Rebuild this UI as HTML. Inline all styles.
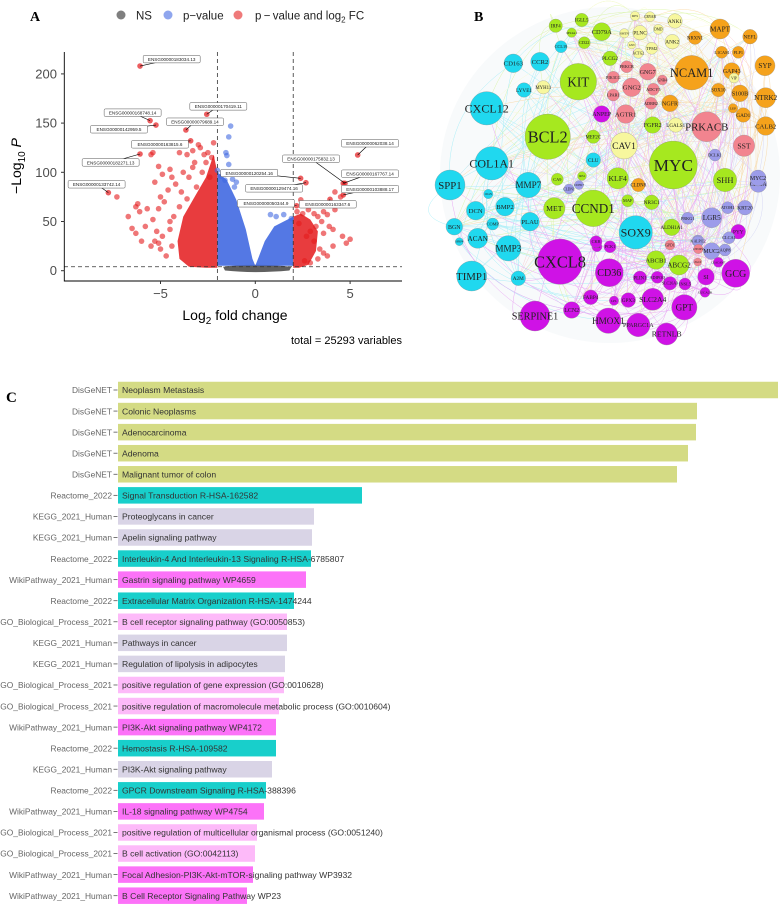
<!DOCTYPE html>
<html><head><meta charset="utf-8"><style>
html,body{margin:0;padding:0;background:#fff;}
svg{display:block;font-family:"Liberation Sans",sans-serif;}
</style></head><body>
<svg id="fig" width="783" height="905" viewBox="0 0 783 905" xmlns="http://www.w3.org/2000/svg">
<g id="pa"></g>
<g id="pb"></g>
<g id="pc"></g>
</svg>
<script>
// ---------- Panel A data ----------
const redX=[-7.3,-6.2,-6.1,-6.3,-6.7,-6.5,-6.3,-5.4,-5.5,-5.1,-4.9,-4.5,-4.4,-4.0,-3.6,-3.3,-3.2,-2.9,-2.7,-2.5,-2.3,-2.2,-3.0,-5.3,-5.0,-4.6,-4.8,-5.1,-5.4,-5.7,-5.8,-5.2,-4.9,-4.5,-5.1,-5.0,-4.4,-4.7,-4.3,-4.2,-3.8,-3.5,-3.9,-4.0,-3.6,-4.5,-5.5,-5.3,-6.0,-3.3,-2.6,-2.4,-3.1,-2.8,
2.2,2.5,2.8,3.1,3.3,3.6,3.8,3.5,3.2,3.9,4.1,3.6,2.9,3.1,3.4,3.6,3.3,2.9,2.6,4.2,4.2,4.5,5.0,4.8,4.6,3.0,2.4,3.8,4.1,2.3,2.7];
const redY=[75,68,60,65,55,43,38,120,118,106,98,103,95,120,118,122,110,125,118,120,115,130,128,90,75,82,70,63,52,63,45,40,35,42,28,22,25,15,55,88,100,95,80,65,73,50,25,30,30,105,110,95,85,100,
60,58,62,58,55,60,57,50,45,45,42,38,40,30,22,18,12,8,10,62,80,75,32,28,35,68,72,15,25,48,35];
const blueX=[-1.3,-1.4,-1.55,-1.5,-1.4,-2.0,-1.8,-1.6,-1.2,-1.0,0.8,1.1,1.5,1.9,-1.7,-1.1];
const blueY=[147,136,120,117,108,102,96,92,93,90,57,55,57,53,100,85];
const blueEnvX=[-2,-1.5,-1,-0.5,-0.15,0,0.2,0.5,1,1.5,2,2,-2];
const blueEnvY=[100,92,72,42,12,5,15,30,45,50,55,5,5];
const redLeftEnvX=[-2,-2.2,-2.6,-3.2,-3.8,-4.1,-4.0,-3.5,-2.6,-2];
const redLeftEnvY=[100,118,95,75,55,30,12,4,3,3];
const redRightEnvX=[2,2.4,2.9,3.3,3.2,2.8,2.3,2];
const redRightEnvY=[55,58,52,40,20,6,3,3];
const labGenes=["ENSG00000183034.13","ENSG00000168748.14","ENSG00000142959.5","ENSG00000170419.11","ENSG00000079689.14","ENSG00000163815.6","ENSG00000182271.13","ENSG00000133742.14","ENSG00000062038.14","ENSG00000175832.13","ENSG00000167767.14","ENSG00000103888.17","ENSG00000163347.6","ENSG00000120254.16","ENSG00000129474.16","ENSG00000050344.9"];
const labPX=[-6.08,-5.55,-5.24,-2.56,-3.66,-3.41,-6.08,-7.75,5.4,4.73,4.64,4.64,3.94,2.39,2.67,2.18];
const labPY=[208,152.5,148,159,143,132,118.6,79.3,117.6,88.8,88.8,77,72.5,93.9,89.4,66];
const labTX=[-4.41,-6.47,-7.19,-1.95,-3.18,-5.03,-7.63,-8.37,6.05,2.94,6.05,6.05,3.82,-0.32,0.99,0.56];
const labTY=[215,160.6,143.7,167,151.4,128.4,110,87.8,129.5,113.8,98.6,83,67.5,99.3,83.7,68.5];
const yTicks=[0,50,100,150,200];
const xTicks=[-5,0,5];

// ---------- Panel C data ----------
const libs=["DisGeNET","DisGeNET","DisGeNET","DisGeNET","DisGeNET","Reactome_2022","KEGG_2021_Human","KEGG_2021_Human","Reactome_2022","WikiPathway_2021_Human","Reactome_2022","GO_Biological_Process_2021","KEGG_2021_Human","KEGG_2021_Human","GO_Biological_Process_2021","GO_Biological_Process_2021","WikiPathway_2021_Human","Reactome_2022","KEGG_2021_Human","Reactome_2022","WikiPathway_2021_Human","GO_Biological_Process_2021","GO_Biological_Process_2021","WikiPathway_2021_Human","WikiPathway_2021_Human"];
const terms=["Neoplasm Metastasis","Colonic Neoplasms","Adenocarcinoma","Adenoma","Malignant tumor of colon","Signal Transduction R-HSA-162582","Proteoglycans in cancer","Apelin signaling pathway","Interleukin-4 And Interleukin-13 Signaling R-HSA-6785807","Gastrin signaling pathway WP4659","Extracellular Matrix Organization R-HSA-1474244","B cell receptor signaling pathway (GO:0050853)","Pathways in cancer","Regulation of lipolysis in adipocytes","positive regulation of gene expression (GO:0010628)","positive regulation of macromolecule metabolic process (GO:0010604)","PI3K-Akt signaling pathway WP4172","Hemostasis R-HSA-109582","PI3K-Akt signaling pathway","GPCR Downstream Signaling R-HSA-388396","IL-18 signaling pathway WP4754","positive regulation of multicellular organismal process (GO:0051240)","B cell activation (GO:0042113)","Focal Adhesion-PI3K-Akt-mTOR-signaling pathway WP3932","B Cell Receptor Signaling Pathway WP23"];
const scores=[660,579,578,570,559,244,196,194,193,188,176,169,169,167,166,161,158,158,154,148,146,139,137,135,129];

// ---------- Panel B data ----------
const nodeNames=["IRF4","IGLL5","MS4A1","CD79A","CD22","CCL19","PLCG2","CD163","CCR2","KIT","LYVE1","MYH11","CXCL12","BCL2","ANPEP","AGTR1","FGFR2","LGALS1","PRKACB","CAV1","MEF2C","CLU","MYC","COL1A1","NCAM1","MAPT","NEFL","NRXN1","SYP","GAP43","L1CAM","PLP1","S100B","SOX10","NTRK2","GAD1","CALB2","NGFR","SST","DCLK1","GNG7","GNG2","PRKCB","PIK3CG","LPAR1","ADCY5","GNB4","ADRB2","ANK1","ANK2","PLNC","DES","CRYAB","DMD","SMTN","GSN","TPM2","ACTG2","LEP","VIP","SPP1","MMP7","OGN","BMP2","DCN","BGN","COMP","PLAU","ACAN","SFRP4","MMP3","TIMP1","A2M","CA9","CLDN1","CDH17","IRS1","KLF4","CLDN8","MAF","NR3C1","SHH","CHGA","MET","CCND1","PRKG1","LGR5","ATOH1","KRT20","MS4A12","ALDH1A1","SOX9","PYY","ALPI","MUC2","CLCA1","AQP8","CA1","CXCL8","ABCB1","ABCG2","CD36","GCG","SI","PLIN1","ADIPOQ","SLC26A3","INSL5","GUCA2B","FABP4","LPL","GPX3","SLC2A4","GPT","LCN2","SERPINE1","HMOX1","PPARGC1A","RETNLB","CKB","PCK1","GPD1","OTOP2","ZG16","CEACAM7","MYC2"];
const nodeX=[555.7,581.7,571.7,601.7,584.3,561,610,513.3,540,578.3,524,543.3,486.7,547.7,601.7,625.7,652.7,675.7,706.7,624,593.3,593.3,673.3,491.7,691.7,720,750,695,765,731.7,721.7,738.3,740,718.3,765.7,743.3,765.7,670,744,715,647.7,631.7,626.7,613.3,613.3,653.3,662.3,651,675,672.3,640,635,650,658.3,624.3,631.7,651.7,638.3,733,734,450,528.3,488.3,505,475.7,454.3,492.7,530,477.7,459.3,508.3,471.7,518.3,557.3,569,579,582,617.7,638.3,627.7,651.7,725,758.3,554.3,593.3,687.7,711.7,727.7,745,698,671.7,635.7,738.3,697.7,711.7,729,725,597,560,656,679,609.3,735.7,706,640,657.3,670,685,705,590.7,614,628.3,652.7,684.3,571.7,535,608.3,638.3,666.7,596,610,670,698.3,697.7,718.3,758];
const nodeY=[25.7,20,32.7,31.7,42.7,46.7,58.3,63.3,61.7,81.7,90,87.3,108.3,136.7,114,114,125,125,126.7,145.7,136.7,160,165,163.3,72.7,29,36.7,37.7,65.7,71,52.3,52.3,93.3,90,97.7,115,126,103.3,145.7,155,71.7,87.3,66.7,77.3,95,89.3,80,103.3,21,41.7,32.7,16,16.7,29.3,33.3,45,48.3,53.3,108.3,78,185,185,194,206.7,210.7,226.7,224,221.7,238.3,241.7,248.3,276,278.3,179.3,189,185,176,178.3,185,200.7,202.3,180,184,208.3,208.3,218.3,217.7,207.7,207.7,241,227.3,232.3,231.7,241,251,237.7,250,246.7,261.7,260,265,272.7,273.3,276.7,277.7,277.3,283.3,284,292.3,297.3,300.7,300,299.3,307.3,310,316,320.7,325,334,241.7,246.7,245,249,262,262.3,178];
const nodeR=[6.7,6.7,4.7,9,6,6,7.3,9.3,9.3,18.3,7.3,6.7,16.7,22.7,8.3,9.3,8.3,7.3,15,13.3,6.7,7.3,24,16.7,17.3,10,7.3,6.7,10,8.3,6,6,8.3,6.7,10,7.3,9.3,8.3,10.7,6,8.3,9.3,6,6,6,6,5,6,7.3,7.3,7.3,4.7,5,5,4.7,4,6,5,4.7,5,15,12.7,4.7,9.3,9.3,8.3,6,9.3,10,4,12.7,15,7.3,6,5,4.5,4.5,10.7,6.7,6,7.3,11.7,8.3,10.7,18.3,6,10,6,7.3,6,8.3,16.7,7.3,5,8.3,6,6,5,22.7,9.3,10,14,14,8.3,6.7,6,6.7,6,5,7.3,4.7,7.3,11,12.7,8.3,15,12.7,11.7,11,6,6,5,4.7,4,5,8];
const nodeGroup=["g","g","g","g","g","c","g","c","c","g","c","y","c","g","p","k","g","y","k","y","g","c","g","c","o","o","o","o","o","o","o","o","o","o","o","o","o","o","k","l","k","k","k","k","k","k","k","k","y","y","y","y","y","y","y","y","y","y","o","y","c","c","c","c","c","c","c","c","c","c","c","c","c","g","l","l","g","g","o","g","g","g","l","g","g","l","l","l","l","l","g","c","p","l","l","l","l","p","p","g","g","p","p","p","p","p","p","p","p","p","p","p","p","p","p","p","p","p","p","p","p","k","k","k","p","l"];

const NS="http://www.w3.org/2000/svg";
function mk(tag,attrs,parent){const e=document.createElementNS(NS,tag);for(const k in attrs)e.setAttribute(k,attrs[k]);if(parent)parent.appendChild(e);return e;}

// ================= Panel A =================
(function(){
const g=document.getElementById('pa');
const xS=v=>255.3+v*18.96, yS=v=>270.7-v*0.984;
let t=mk('text',{x:30,y:21,'font-family':'Liberation Serif',"font-weight":"bold","font-size":14,fill:'#000'},g);t.textContent='A';

const lg=mk('g',{},g);

const leg=[[121,'#7f7f7f','NS',136],[168,'#8fa6ee','p\u2212value',183],[238,'#ef7a7a','p\u2009\u2212\u2009value and log',255]];
leg.forEach((l,i)=>{
 const c=mk('circle',{cx:l[0],cy:15,r:4.5,fill:l[1]},lg);
 
 const tx=mk('text',{x:l[3],y:19.5,'font-size':11.5,fill:'#222'},lg);
 
 if(i<2)tx.textContent=l[2];else{tx.textContent=l[2];const s=mk('tspan',{'font-size':8,dy:3},tx);s.textContent='2';const s2=mk('tspan',{dy:-3},tx);s2.textContent=' FC';}
});
const band=mk('path',{d:`M${xS(-1.7)},${yS(4)} Q${xS(0)},${yS(8)} ${xS(1.9)},${yS(4)} L${xS(1.8)},${yS(0.2)} Q${xS(0)},${yS(-3)} ${xS(-1.6)},${yS(0.2)} Z`,fill:'#444',opacity:0.85},g);

let d='';blueEnvX.forEach((v,i)=>{d+=(i?'L':'M')+xS(v)+','+yS(blueEnvY[i]);});
const bc=mk('path',{d:d+'Z',fill:'#4169e1',opacity:0.9},g);

d='';redLeftEnvX.forEach((v,i)=>{d+=(i?'L':'M')+xS(v)+','+yS(redLeftEnvY[i]);});
const rl=mk('path',{d:d+'Z',fill:'#e41a1c',opacity:0.85},g);

d='';redRightEnvX.forEach((v,i)=>{d+=(i?'L':'M')+xS(v)+','+yS(redRightEnvY[i]);});
const rr=mk('path',{d:d+'Z',fill:'#e41a1c',opacity:0.85},g);

blueX.forEach((v,i)=>{const c=mk('circle',{cx:xS(v),cy:yS(blueY[i]),r:2.8,fill:'#4169e1','fill-opacity':0.6},g);
 });
redX.forEach((v,i)=>{const c=mk('circle',{cx:xS(v),cy:yS(redY[i]),r:2.8,fill:'#e41a1c','fill-opacity':0.6},g);
 });
labPX.forEach((v,i)=>{const c=mk('circle',{cx:xS(v),cy:yS(labPY[i]),r:2.8,fill:'#e41a1c','fill-opacity':0.7},g);
 });
[-2,2].forEach(v=>{const l=mk('line',{x1:xS(v),x2:xS(v),y1:52,y2:281,stroke:'#333','stroke-dasharray':'4,3','stroke-width':0.8},g);
 });
let hl=mk('line',{x1:64,x2:402,y1:yS(4),y2:yS(4),stroke:'#333','stroke-dasharray':'4,3','stroke-width':0.8},g);

labGenes.forEach((s,i)=>{
 const tx=xS(labTX[i]),ty=yS(labTY[i]);const w=57,h=7.5;
 const ln=mk('line',{x1:xS(labPX[i]),y1:yS(labPY[i]),x2:tx,y2:ty,stroke:'#000','stroke-width':0.6},g);
 
 const r=mk('rect',{x:tx-w/2,y:ty-h/2,width:w,height:h,rx:1.2,fill:'#fff',stroke:'#555','stroke-width':0.5},g);
 
 const te=mk('text',{x:tx,y:ty+1.8,'text-anchor':'middle','font-size':4.6,fill:'#222'},g);te.textContent=s;
 
});
let ax=mk('path',{d:'M64.3,52V281H402',fill:'none',stroke:'#000','stroke-width':0.9},g);

yTicks.forEach(v=>{mk('line',{x1:61,x2:64.3,y1:yS(v),y2:yS(v),stroke:'#333'},g);
 const tt=mk('text',{x:57,y:yS(v)+4.5,'text-anchor':'end','font-size':13,fill:'#4d4d4d'},g);tt.textContent=v;
 });
xTicks.forEach(v=>{mk('line',{x1:xS(v),x2:xS(v),y1:281,y2:284,stroke:'#333'},g);
 const tt=mk('text',{x:xS(v),y:298,'text-anchor':'middle','font-size':13,fill:'#4d4d4d'},g);tt.textContent=v===-5?'\u22125':v;
 });
let xt=mk('text',{x:235,y:320,'text-anchor':'middle','font-size':14,fill:'#000'},g);

xt.textContent='Log';let s=mk('tspan',{'font-size':10,dy:4},xt);s.textContent='2';s=mk('tspan',{dy:-4},xt);s.textContent=' fold change';
let yt=mk('text',{x:0,y:0,transform:'translate(21,166) rotate(-90)','text-anchor':'middle','font-size':14,fill:'#000'},g);

yt.textContent='\u2212Log';s=mk('tspan',{'font-size':10,dy:4},yt);s.textContent='10';s=mk('tspan',{dy:-4,'font-style':'italic'},yt);s.textContent=' P';
let tot=mk('text',{x:402,y:344,'text-anchor':'end','font-size':11,fill:'#000'},g);tot.textContent='total = 25293 variables';

})();

// ================= Panel B =================
(function(){
const g=document.getElementById('pb');
const col={g:'#a6e81f',c:'#20d8ef',y:'#f7f79e',o:'#f5a21b',k:'#f2848f',p:'#cf12e6',l:'#9c9cea'};
let t=mk('text',{x:474,y:21,'font-family':'Liberation Serif',"font-weight":"bold","font-size":14,fill:'#000'},g);t.textContent='B';

const bg=mk('ellipse',{cx:610,cy:175,rx:170,ry:168,fill:'#f3f6f8',opacity:0.6},g);

const N=nodeNames.length;
const eg=mk('g',{fill:'none','stroke-width':0.5,opacity:0.35},g);

for(let i=0;i<N;i++){[5,11,23,37].forEach(k=>{const j=(i*7+k)%N;
 const mx=(nodeX[i]+nodeX[j])/2,my=(nodeY[i]+nodeY[j])/2;const qx=mx+(610-mx)*-0.3,qy=my+(175-my)*-0.3;
 const e=mk('path',{d:`M${nodeX[i]},${nodeY[i]}Q${qx},${qy} ${nodeX[j]},${nodeY[j]}`,stroke:col[nodeGroup[i]]},eg);
 });}
for(let i=0;i<N;i++){
 const ng=mk('g',{},g);
 
 mk('circle',{cx:nodeX[i],cy:nodeY[i],r:nodeR[i],fill:col[nodeGroup[i]],stroke:'#888','stroke-width':0.3},ng);
 const r=nodeR[i],len=nodeNames[i].length;
 let fs=Math.min(r*0.72,2.3*r/(len*0.55));if(r>14)fs=Math.min(r*0.72,3.0*r/(len*0.55));
 const tx=mk('text',{x:nodeX[i],y:nodeY[i]+fs*0.35,'text-anchor':'middle','font-family':'Liberation Serif','font-size':fs.toFixed(2),fill:'#222'},ng);
 tx.textContent=nodeNames[i];
}
})();

// ================= Panel C =================
(function(){
const g=document.getElementById('pc');
const colors={"DisGeNET":"#d4db84","Reactome_2022":"#18cfcb","KEGG_2021_Human":"#d9d4e6","WikiPathway_2021_Human":"#fc72f8","GO_Biological_Process_2021":"#fdbaf9"};
let t=mk('text',{x:6,y:402,'font-family':'Liberation Serif',"font-weight":"bold","font-size":15,fill:'#000'},g);t.textContent='C';

const x0=118,y0=390,step=21.07,h=16.5;
terms.forEach((term,i)=>{
 const cy=y0+i*step;
 const bar=mk('rect',{x:x0,y:cy-h/2,width:scores[i],height:h,fill:colors[libs[i]]},g);
 
 const tl=mk('text',{x:122,y:cy+3.2,'font-size':8.6,fill:'#333'},g);tl.textContent=term;
 
 mk('line',{x1:113.5,x2:117.5,y1:cy,y2:cy,stroke:'#555','stroke-width':0.8},g);
 const ll=mk('text',{x:112,y:cy+3.2,'text-anchor':'end','font-size':8.4,fill:'#666'},g);ll.textContent=libs[i];
 
});
})();
</script>
</body></html>
